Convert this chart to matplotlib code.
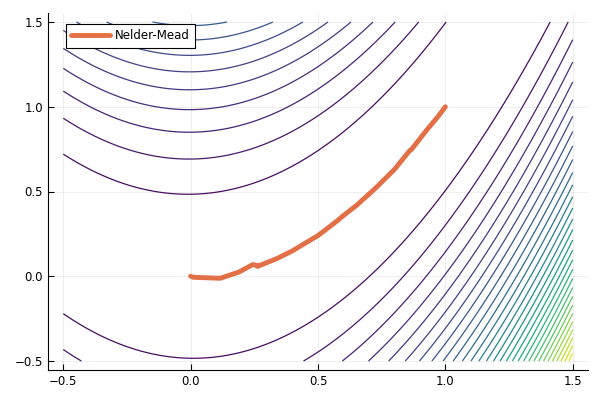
import numpy as np
import matplotlib
matplotlib.use('Agg')
import matplotlib.pyplot as plt

# grid for the Rosenbrock surface
xs = np.linspace(-0.5, 1.5, 201)
ys = np.linspace(-0.5, 1.5, 201)
X, Y = np.meshgrid(xs, ys)
Z = (1 - X) ** 2 + 100 * (Y - X ** 2) ** 2
levels = np.linspace(Z.min(), Z.max(), 32)[1:-1]

# Nelder-Mead trace
path_x = [0.0, 0.01, 0.116, 0.19, 0.244, 0.266, 0.262, 0.338, 0.40, 0.436,
          0.50, 0.573, 0.593, 0.652, 0.724, 0.80, 0.861, 0.866, 0.880, 0.926, 0.97, 1.0]
path_y = [0.0, -0.006, -0.012, 0.025, 0.069, 0.062, 0.058, 0.104, 0.15, 0.183,
          0.24, 0.324, 0.35, 0.419, 0.517, 0.63, 0.743, 0.746, 0.773, 0.861, 0.94, 1.0]

ticks = [-0.5, 0.0, 0.5, 1.0, 1.5]
tick_labels = ['\u22120.5', '0.0', '0.5', '1.0', '1.5']

fig = plt.figure(figsize=(6, 4), dpi=100)
ax = fig.add_subplot(111)
fig.subplots_adjust(left=0.08, right=0.98, top=0.9675, bottom=0.075)

ax.contour(X, Y, Z, levels=levels, cmap='viridis', vmin=Z.min(), vmax=Z.max(), linewidths=0.9)
ax.plot(path_x, path_y, color='#e26f46', lw=3.5, solid_capstyle='round', label='Nelder-Mead')

ax.set_xlim(-0.56, 1.56)
ax.set_ylim(-0.553, 1.553)
ax.set_xticks(ticks)
ax.set_xticklabels(tick_labels)
ax.set_yticks(ticks)
ax.set_yticklabels(tick_labels)
ax.tick_params(direction='in', length=4, labelsize=8.5, color='black')
ax.grid(True, color='black', alpha=0.08, lw=0.6)
ax.spines['top'].set_visible(False)
ax.spines['right'].set_visible(False)

leg = ax.legend(loc='upper left', bbox_to_anchor=(0.033, 0.969), borderaxespad=0,
                fontsize=8.5, fancybox=False, framealpha=1, edgecolor='black',
                handlelength=3.3, handletextpad=0.4, borderpad=0.45)
leg.get_frame().set_linewidth(0.8)

fig.savefig('out.png', dpi=100)
